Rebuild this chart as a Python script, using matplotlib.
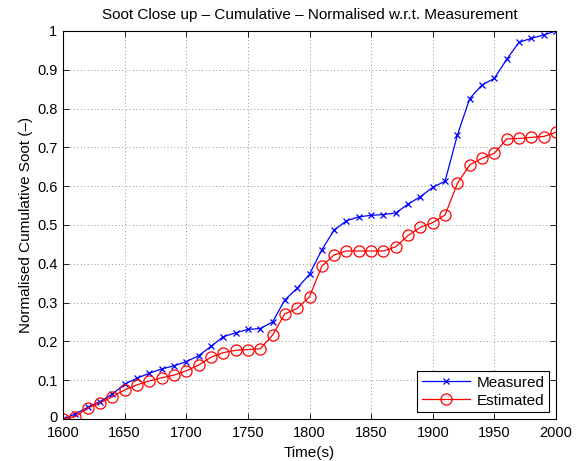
import matplotlib
matplotlib.use("Agg")
import matplotlib.pyplot as plt
import matplotlib.transforms as mtransforms
import numpy as np

plt.rcParams['font.family'] = ['Liberation Sans', 'DejaVu Sans']

time_s = np.arange(1600, 2001, 10)

measured = [0.0, 0.013, 0.030, 0.045, 0.064, 0.090, 0.105, 0.118, 0.129, 0.137,
            0.148, 0.163, 0.187, 0.212, 0.222, 0.231, 0.233, 0.250, 0.307, 0.337,
            0.373, 0.436, 0.487, 0.511, 0.521, 0.525, 0.527, 0.531, 0.554, 0.573,
            0.597, 0.613, 0.732, 0.826, 0.861, 0.878, 0.927, 0.971, 0.981, 0.990,
            1.0]

estimated = [0.0, 0.006, 0.028, 0.042, 0.057, 0.075, 0.088, 0.098, 0.106, 0.113,
             0.124, 0.139, 0.159, 0.171, 0.177, 0.179, 0.181, 0.216, 0.271, 0.285,
             0.315, 0.394, 0.423, 0.433, 0.433, 0.433, 0.433, 0.444, 0.473, 0.494,
             0.506, 0.526, 0.607, 0.655, 0.672, 0.685, 0.722, 0.723, 0.726, 0.728,
             0.739]

x_ticks = [1600, 1650, 1700, 1750, 1800, 1850, 1900, 1950, 2000]
y_ticks = [0, 0.1, 0.2, 0.3, 0.4, 0.5, 0.6, 0.7, 0.8, 0.9, 1]
y_tick_labels = ['0', '0.1', '0.2', '0.3', '0.4', '0.5', '0.6', '0.7', '0.8', '0.9', '1']

fig = plt.figure(figsize=(5.84, 4.61), dpi=100)
ax = fig.add_axes([63/584, 1 - 419/461, (556 - 63)/584, (419 - 31)/461])

ax.plot(time_s, measured, color='#0000ff', marker='x', markersize=5,
        linewidth=0.9, markeredgewidth=0.9, label='Measured')
ax.plot(time_s, estimated, color='#ff0000', marker='o', markersize=8,
        markerfacecolor='none', linewidth=0.9, markeredgewidth=0.9, label='Estimated')

ax.set_xlim(1600, 2000)
ax.set_ylim(0, 1)
ax.set_xticks(x_ticks)
ax.set_yticks(y_ticks)
ax.set_yticklabels(y_tick_labels)
ax.tick_params(direction='in', top=True, right=True, labelsize=10.5, length=4, width=0.6)
ax.tick_params(axis='x', pad=5)
ax.tick_params(axis='y', pad=4)
ax.grid(True, color='k', linestyle=(0, (1, 4)), linewidth=0.5, alpha=0.8)
for s in ax.spines.values():
    s.set_linewidth(0.8)

# nudge the bottom y tick label up a little so it clears the first x tick label
zero_lbl = ax.get_yticklabels()[0]
zero_lbl.set_transform(zero_lbl.get_transform() +
                       mtransforms.ScaledTranslation(0, 2/100, fig.dpi_scale_trans))

ax.set_title('Soot Close up \u2013 Cumulative \u2013 Normalised w.r.t. Measurement', fontsize=11, pad=8.5)
ax.set_xlabel('Time(s)', fontsize=11, labelpad=4.5)
ax.set_ylabel('Normalised Cumulative Soot (\u2013)', fontsize=11, labelpad=3)

leg = ax.legend(loc='lower right', fontsize=11, fancybox=False, framealpha=1,
                edgecolor='k', borderpad=0.3, labelspacing=0.25, handlelength=3.2,
                handletextpad=0.4, borderaxespad=0.45)
leg.get_frame().set_linewidth(0.8)

fig.savefig('out.png', dpi=100)
